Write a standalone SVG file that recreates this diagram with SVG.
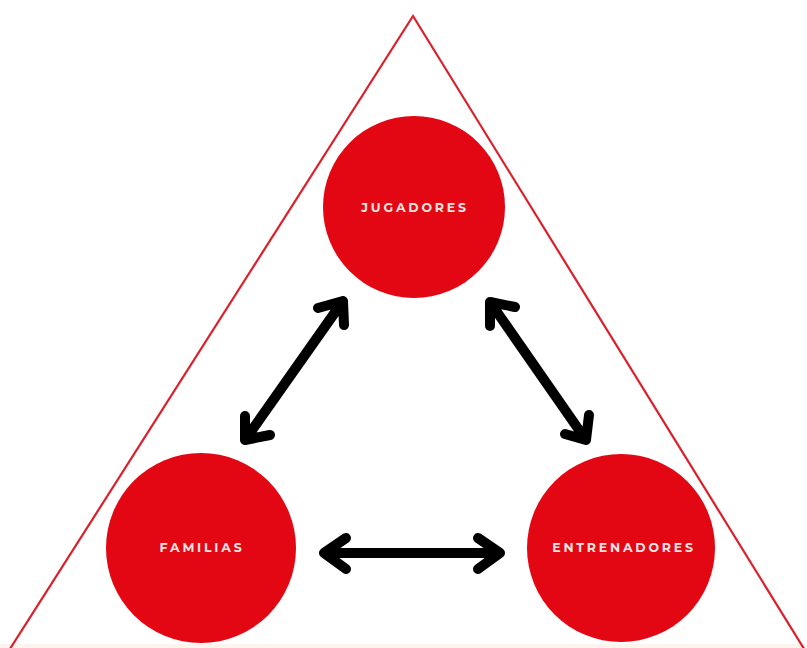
<svg xmlns="http://www.w3.org/2000/svg" width="807" height="648" viewBox="0 0 807 648">
<style>
.node{fill:#e30613}
.lbl{font-family:"Montserrat","Lato","Open Sans",sans-serif;font-weight:700;font-size:12.5px;letter-spacing:2.8px;fill:#f7e4e2;text-anchor:middle}
.arr{fill:none;stroke:#000;stroke-width:10;stroke-linecap:round;stroke-linejoin:round}
</style>
<rect x="0" y="0" width="807" height="648" fill="#fff"/>
<rect x="0" y="644" width="807" height="4" fill="#fdf4ee"/>
<polygon id="triangle" points="413,16 806,652 8,652" fill="none" stroke="#dc1f2a" stroke-width="2.2"/>
<g id="jugadores"><circle class="node" cx="414" cy="207" r="91"/><text class="lbl" x="415" y="212">JUGADORES</text></g>
<g id="familias"><circle class="node" cx="201" cy="548" r="95"/><text class="lbl" x="202" y="552">FAMILIAS</text></g>
<g id="entrenadores"><circle class="node" cx="621" cy="548" r="94"/><text class="lbl" x="624" y="552">ENTRENADORES</text></g>
<g id="connectors">
<path class="arr" d="M245,440 L343,301 M318,308 L343,301 L344,325 M245,416 L245,440 L270,435"/>
<path class="arr" d="M490,302 L586,440 M490,326 L490,302 L515,307 M589,415 L586,440 L565,434"/>
<path class="arr" d="M324,553 L500,553 M346,538 L324,553 L346,569 M478,538 L500,553 L478,569"/>
</g>
</svg>
